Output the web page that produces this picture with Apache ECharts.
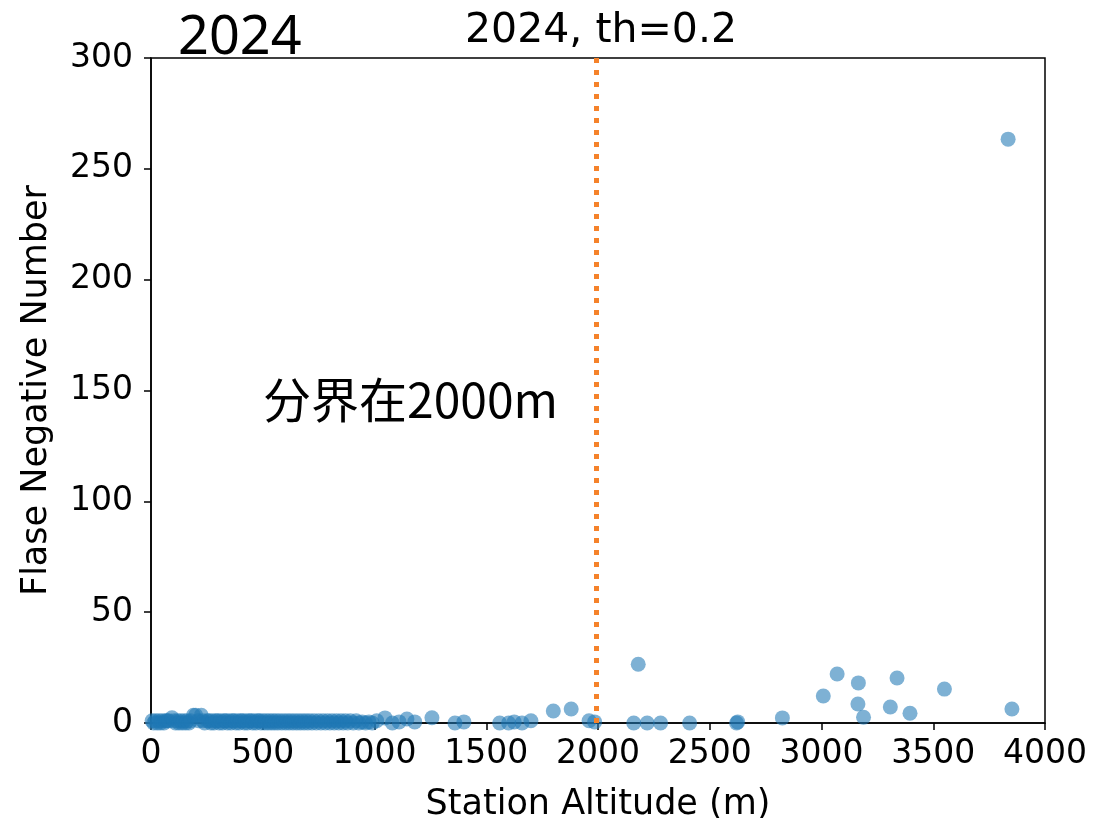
<!DOCTYPE html>
<html>
<head>
<meta charset="utf-8">
<script src="https://cdn.jsdelivr.net/npm/echarts@6/dist/echarts.min.js"></script>
<style>html,body{margin:0;padding:0;background:#fff}#c{width:1114px;height:818px}</style>
</head>
<body>
<div id="c"></div>
<script>
// Station altitude (m)
const altitudes = [
  5, 12, 20, 28, 35, 42, 50, 58, 65, 72,
  80, 94, 103, 110, 118, 125, 132, 140, 148, 155,
  162, 170, 178, 190, 200, 212, 225, 232, 240, 252,
  260, 268, 275, 282, 290, 298, 305, 312, 320, 328,
  335, 342, 350, 358, 365, 372, 380, 388, 395, 402,
  410, 418, 425, 432, 440, 448, 455, 462, 470, 478,
  485, 492,
  500, 508, 515, 523, 530, 538, 545, 553, 560, 568,
  576, 585, 593, 602, 610, 618, 626, 635, 643, 652,
  660, 668, 677, 685, 694, 702, 711, 720, 730, 740,
  750, 760, 770, 780, 790, 800, 810, 820, 830, 840,
  850, 860, 870, 880, 892, 905, 918, 930, 945, 960,
  975, 990,
  1010, 1047, 1080, 1110, 1145, 1180, 1257, 1360, 1400, 1560,
  1600, 1625, 1660, 1700, 1800, 1880, 1960, 1985, 2160, 2180,
  2220, 2280, 2410, 2620, 2625, 2825, 3008, 3070, 3163, 3165,
  3188, 3308, 3338, 3396, 3550, 3835, 3852
];
// False negative number
const fnValues = [
  1, 0, 1, 0, 1, 0, 1, 0, 1, 1,
  1, 2.4, 1, 0, 1, 0, 1, 0, 1, 0,
  1, 0, 1, 3.5, 3.5, 1, 3.5, 1, 0, 1,
  1, 0, 1, 0, 1, 1, 0, 1, 0, 1,
  1, 0, 1, 0, 1, 1, 0, 1, 0, 1,
  1, 0, 1, 0, 1, 1, 0, 1, 0, 1,
  1, 0,
  1, 0, 1, 0, 1, 0, 1, 0, 1, 0,
  1, 0, 1, 0, 1, 0, 1, 0, 1, 0,
  1, 0, 1, 0, 1, 0, 1, 0, 1, 0,
  1, 0, 1, 0, 1, 0, 1, 0, 1, 0,
  1, 0, 1, 0, 1, 0, 1, 0, 0.5, 0,
  0.5, 0,
  1, 2.3, 0, 0.5, 1.8, 0.5, 2.4, 0, 0.5, 0,
  0, 0.5, 0, 1, 5.4, 6.3, 1, 0.5, 0, 26.5,
  0, 0, 0, 0, 0.5, 2.3, 12.2, 22.1, 8.6, 18.1,
  2.6, 7.2, 20.3, 4.4, 15.3, 263.4, 6.3
];
const xTicks = [0, 500, 1000, 1500, 2000, 2500, 3000, 3500, 4000];
const yTicks = [0, 50, 100, 150, 200, 250, 300];
const thresholdAltitude = 1990;
const chartTitle = '2024, th=0.2';
const cornerLabel = '2024';
const noteLabel = '分界在2000m';

const points = altitudes.map((a, i) => [a, fnValues[i]]);

const chart = echarts.init(document.getElementById('c'), null, {renderer: 'canvas'});
const font = 'DejaVu Sans';
chart.setOption({
  animation: false,
  backgroundColor: '#fff',
  title: {
    text: chartTitle,
    left: 596, top: 6, textAlign: 'center',
    textStyle: {fontFamily: font, fontSize: 41, fontWeight: 'normal', color: '#000'}
  },
  graphic: [
    {type: 'text', left: 178, top: 12, style: {text: cornerLabel, font: '54px "Noto Sans"', fill: '#000'}},
    {type: 'text', left: 263, top: 376, style: {text: noteLabel, font: '48px "Noto Sans CJK SC"', fill: '#000'}}
  ],
  grid: {left: 151, top: 58, width: 894, height: 665, outerBoundsMode: 'none', containLabel: false,
    show: true, borderColor: '#000', borderWidth: 1.5, backgroundColor: 'transparent'},
  xAxis: {
    type: 'value', min: 0, max: 4000, interval: 500,
    name: 'Station Altitude (m)', nameLocation: 'middle', nameGap: 64,
    nameTextStyle: {fontFamily: font, fontSize: 35, color: '#000'},
    axisLine: {show: true, onZero: false, lineStyle: {color: '#000', width: 1.5}},
    axisTick: {show: true, inside: false, length: 7, lineStyle: {color: '#000', width: 1.5}},
    axisLabel: {fontFamily: font, fontSize: 33, color: '#000', margin: 15,
      customValues: xTicks, formatter: v => String(v)},
    splitLine: {show: false}
  },
  yAxis: {
    type: 'value', min: 0, max: 300, interval: 50,
    name: 'Flase Negative Number', nameLocation: 'middle', nameGap: 97,
    nameTextStyle: {fontFamily: font, fontSize: 35, color: '#000'},
    axisLine: {show: true, onZero: false, lineStyle: {color: '#000', width: 1.5}},
    axisTick: {show: true, inside: false, length: 7, lineStyle: {color: '#000', width: 1.5}},
    axisLabel: {fontFamily: font, fontSize: 33, color: '#000', margin: 18,
      customValues: yTicks, formatter: v => String(v)},
    splitLine: {show: false}
  },
  series: [
    {
      type: 'scatter',
      data: points,
      symbol: 'circle',
      symbolSize: 15,
      itemStyle: {color: 'rgba(31,119,180,0.72)'},
      z: 3
    },
    {
      type: 'line',
      data: [],
      markLine: {
        silent: true,
        symbol: ['none', 'none'],
        label: {show: false},
        lineStyle: {color: '#f5822a', width: 5, type: [5, 7]},
        data: [{xAxis: thresholdAltitude}]
      },
      z: 2
    }
  ]
});
</script>
</body>
</html>
